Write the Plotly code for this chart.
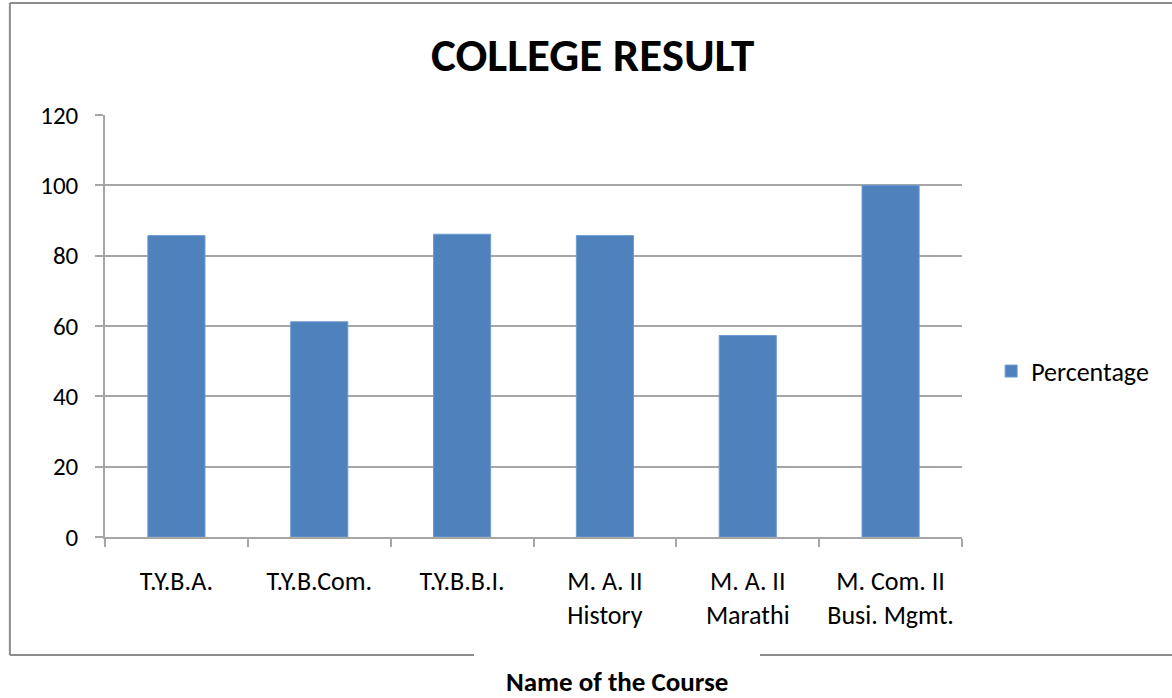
import plotly.graph_objects as go

courses = ["T.Y.B.A.", "T.Y.B.Com.", "T.Y.B.B.I.", "M. A. II<br>History",
           "M. A. II<br>Marathi", "M. Com. II<br>Busi. Mgmt."]
percentage = [85.7, 61.2, 86.1, 85.7, 57.3, 100]
y_ticks = [0, 20, 40, 60, 80, 100, 120]

font = "Carlito, Calibri, Lato, sans-serif"
grid = "#a6a6a6"
border = "#8c8c8c"

fig = go.Figure()
fig.add_trace(go.Bar(x=courses, y=percentage, name="Percentage",
                     marker=dict(color="#4F81BD", line=dict(color="#6f9bd0", width=1))))

fig.update_layout(
    width=1172, height=698,
    margin=dict(l=105, r=210, t=115, b=161),
    paper_bgcolor="white", plot_bgcolor="white",
    font=dict(family=font, size=24, color="black"),
    bargap=0.6,
    showlegend=True,
    legend=dict(x=1.034, y=0.393, xanchor="left", yanchor="middle",
                font=dict(size=26), bgcolor="rgba(0,0,0,0)"),
    title=dict(text="<b>COLLEGE RESULT</b>", x=0.569, xref="paper",
               y=1 - 55 / 698, yanchor="middle", xanchor="center",
               font=dict(size=47, family=font)),
)
fig.update_xaxes(showline=True, linecolor=grid, linewidth=1.5,
                 ticks="outside", tickson="boundaries", ticklen=8,
                 tickcolor=grid, tickwidth=1.5, ticklabelstandoff=20,
                 showgrid=False, tickfont=dict(size=26))
fig.update_yaxes(range=[0, 120], tickvals=y_ticks, showline=True,
                 linecolor=grid, linewidth=1.5, showgrid=True, gridcolor=grid,
                 gridwidth=1.5, ticks="outside", ticklen=8, tickcolor=grid,
                 tickwidth=1.5, ticklabelstandoff=12, zeroline=False,
                 tickfont=dict(size=25))

fig.add_annotation(text="<b>Name of the Course</b>", xref="paper", yref="paper",
                   x=0.597, y=-0.343, showarrow=False, font=dict(size=27),
                   xanchor="center", yanchor="middle", borderpad=0)

# chart area border, bottom edge broken under the axis title
ln = dict(color=border, width=2)
left, right, top, bottom = -0.111, 1.26, 1.2654, -0.2796
gap_l, gap_r = (474 - 105) / 857, (760 - 105) / 857
for x0, y0, x1, y1 in [(left, top, right, top), (left, top, left, bottom),
                       (left, bottom, gap_l, bottom), (gap_r, bottom, right, bottom)]:
    fig.add_shape(type="line", xref="paper", yref="paper",
                  x0=x0, y0=y0, x1=x1, y1=y1, line=ln)

fig.write_html("out.html", config={"displayModeBar": False},
               post_script="document.body.style.margin='0';")
